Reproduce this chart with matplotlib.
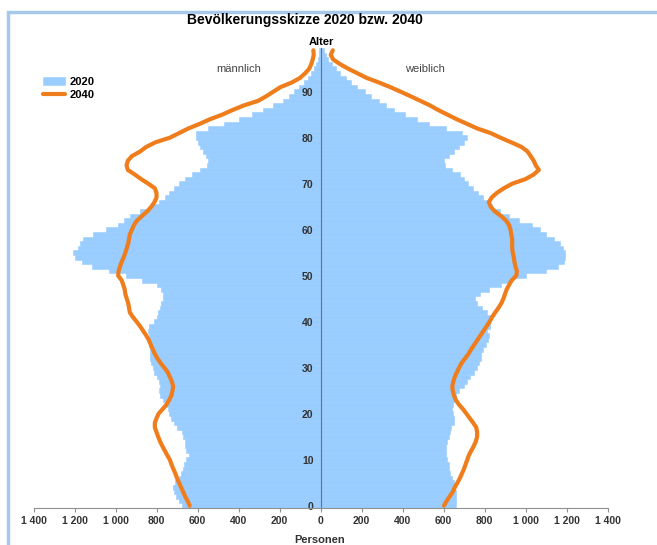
import numpy as np
import matplotlib
matplotlib.use("Agg")
import matplotlib.pyplot as plt
from matplotlib.patches import Rectangle
from matplotlib.ticker import FixedLocator, FuncFormatter

plt.rcParams['font.family'] = ['Liberation Sans', 'DejaVu Sans']

# age groups 0..99
ages = np.arange(100)

# 2020 population by single year of age
men_2020 = [678, 690, 703, 715, 719, 711, 690, 680, 670, 665,
            655, 640, 655, 662, 662, 670, 678, 700, 715, 727,
            740, 745, 752, 768, 785, 788, 784, 790, 800, 810,
            816, 828, 833, 833, 833, 835, 835, 838, 841, 835,
            810, 800, 792, 784, 780, 770, 770, 780, 800, 870,
            950, 1030, 1117, 1165, 1200, 1206, 1185, 1175, 1160, 1110,
            1045, 990, 960, 930, 880, 820, 790, 760, 740, 715,
            690, 660, 625, 590, 555, 550, 560, 575, 590, 600,
            605, 605, 550, 470, 400, 335, 280, 230, 185, 155,
            130, 105, 80, 60, 45, 32, 22, 14, 9, 5]
women_2020 = [659, 659, 659, 659, 655, 651, 640, 632, 626, 626,
              618, 610, 610, 614, 618, 626, 630, 635, 651, 651,
              648, 643, 647, 655, 659, 675, 700, 716, 730, 750,
              764, 775, 781, 785, 795, 805, 818, 821, 813, 825,
              829, 829, 810, 790, 764, 756, 780, 820, 880, 930,
              1000, 1100, 1160, 1190, 1194, 1194, 1185, 1170, 1138, 1100,
              1073, 1030, 970, 920, 875, 835, 815, 795, 770, 745,
              720, 700, 680, 640, 605, 600, 625, 650, 675, 700,
              716, 690, 610, 530, 470, 410, 360, 320, 285, 245,
              215, 180, 150, 125, 95, 75, 55, 38, 25, 15]

# 2040 projection
men_2040 = [638, 648, 660, 670, 680, 690, 700, 708, 718, 727,
            735, 748, 760, 772, 783, 792, 800, 808, 808, 800,
            790, 770, 751, 738, 727, 722, 719, 725, 735, 745,
            762, 780, 795, 808, 818, 828, 837, 850, 865, 880,
            897, 915, 930, 934, 938, 945, 952, 955, 962, 970,
            987, 985, 978, 970, 960, 952, 945, 938, 934, 930,
            920, 910, 895, 870, 845, 825, 810, 800, 800, 808,
            840, 875, 906, 940, 946, 940, 920, 880, 850, 805,
            735, 690, 645, 590, 540, 480, 430, 375, 305, 265,
            230, 195, 140, 100, 75, 55, 45, 38, 33, 35]
women_2040 = [602, 615, 630, 645, 655, 668, 680, 690, 700, 708,
              716, 724, 736, 748, 758, 764, 764, 760, 745, 728,
              712, 695, 675, 660, 651, 645, 643, 648, 655, 665,
              676, 688, 705, 722, 735, 750, 765, 780, 795, 810,
              825, 837, 852, 868, 882, 892, 900, 908, 920, 933,
              955, 958, 951, 946, 943, 938, 935, 935, 935, 930,
              927, 920, 905, 880, 850, 830, 821, 835, 860, 894,
              935, 1000, 1040, 1065, 1050, 1040, 1025, 1010, 980, 930,
              878, 830, 765, 715, 665, 620, 575, 535, 488, 440,
              391, 340, 285, 225, 180, 135, 95, 62, 50, 60]

x_ticks = [-1400, -1200, -1000, -800, -600, -400, -200, 0,
           200, 400, 600, 800, 1000, 1200, 1400]
y_ticks = [0, 10, 20, 30, 40, 50, 60, 70, 80, 90]

blue = '#99ccff'
orange = '#f07d1c'
grey = '#707070'

W, H = 657, 545
fig = plt.figure(figsize=(W / 100, H / 100), dpi=100)
ax = fig.add_axes([33.5 / W, 37 / H, 574 / W, 460 / H])

bars = ax.barh(ages, -np.array(men_2020), height=1.0, color=blue,
               edgecolor=blue, linewidth=0.4, label='2020')
ax.barh(ages, women_2020, height=1.0, color=blue, edgecolor=blue, linewidth=0.4)
line, = ax.plot(-np.array(men_2040), ages, color=orange, lw=3, solid_capstyle='round', label='2040')
ax.plot(women_2040, ages, color=orange, lw=3, solid_capstyle='round')

ax.set_xlim(-1400, 1400)
ax.set_ylim(-0.5, 99.5)

for s in ['top', 'right']:
    ax.spines[s].set_visible(False)
ax.spines['left'].set_position(('data', 0))
ax.spines['left'].set_color(grey)
ax.spines['bottom'].set_color('#909090')

ax.xaxis.set_major_locator(FixedLocator(x_ticks))
ax.xaxis.set_major_formatter(FuncFormatter(lambda v, p: f'{abs(int(v)):,}'.replace(',', ' ')))
ax.yaxis.set_major_locator(FixedLocator(y_ticks))
ax.tick_params(axis='x', length=3, color='#909090', labelsize=7.5, labelcolor='#333333', pad=3)
ax.tick_params(axis='y', length=0, labelsize=7.5, labelcolor='#333333', pad=5)
for lab in ax.get_xticklabels() + ax.get_yticklabels():
    lab.set_fontweight('bold')

fig.text(305 / W, 1 - 20 / H, 'Bevölkerungsskizze 2020 bzw. 2040', ha='center', va='center',
         fontsize=10, fontweight='bold')
fig.text(321 / W, 1 - 42 / H, 'Alter', ha='center', va='center', fontsize=8, fontweight='bold')
fig.text(320 / W, 1 - 540 / H, 'Personen', ha='center', va='center', fontsize=8, fontweight='bold',
         color='#333333')
fig.text(239 / W, 1 - 69 / H, 'männlich', ha='center', va='center', fontsize=8, color='#444444')
fig.text(425 / W, 1 - 69 / H, 'weiblich', ha='center', va='center', fontsize=8, color='#444444')

leg = fig.legend([bars, line], ['2020', '2040'], loc='upper left',
                 bbox_to_anchor=(43 / W, 1 - 77 / H), frameon=False,
                 fontsize=8, handlelength=2.0, handletextpad=0.4, borderpad=0,
                 borderaxespad=0, labelspacing=0.3)
for t in leg.get_texts():
    t.set_fontweight('bold')

# chart frame
fig.add_artist(Rectangle((8 / W, -0.1), 1.0, 1.1 - 12 / H, transform=fig.transFigure,
                         fill=False, edgecolor='#a6c8ea', lw=2.5))

fig.savefig('out.png', dpi=100)
